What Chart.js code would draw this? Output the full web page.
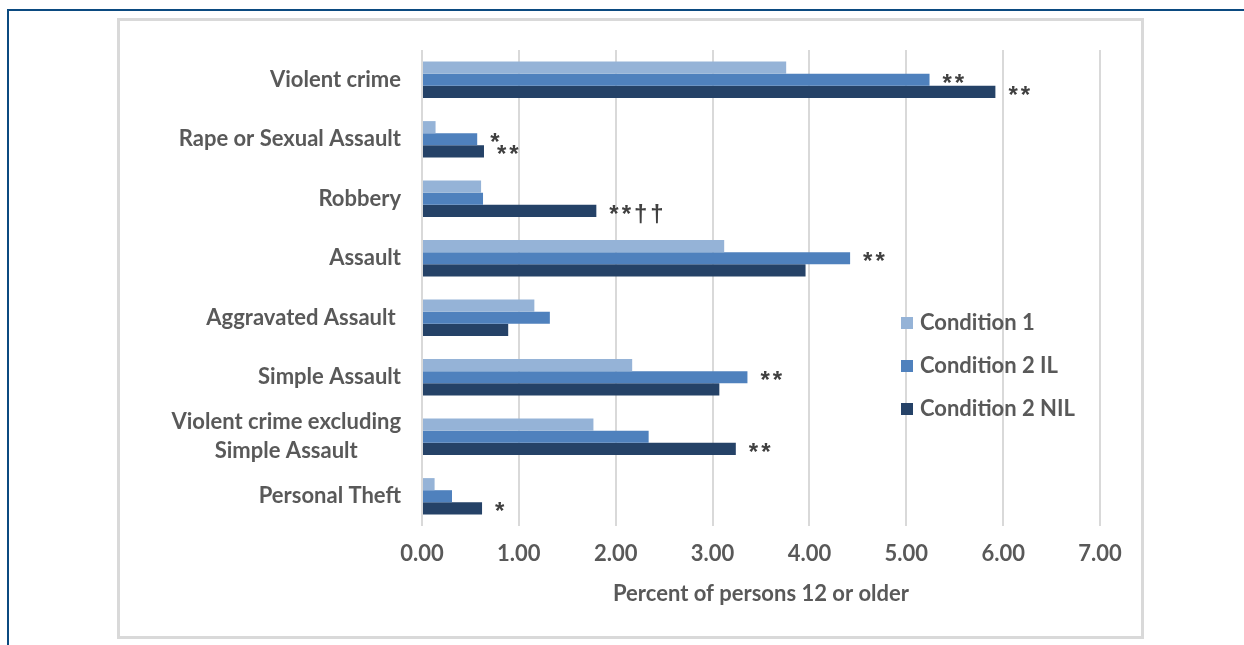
<!DOCTYPE html>
<html>
<head>
<meta charset="utf-8">
<script src="https://cdn.jsdelivr.net/npm/chart.js@4"></script>
<style>
  body { margin: 0; background: #fff; }
  #frame { position: absolute; left: 7px; top: 9px; width: 1300px; height: 700px;
           border-top: 2px solid #0b4a80; border-left: 2px solid #0b4a80; }
  #box { position: absolute; left: 117px; top: 18px; width: 1021px; height: 615px;
         border: 3px solid #d9d9d9; }
  #wrap { position: absolute; left: 0; top: 0; width: 1244px; height: 645px; }
</style>
</head>
<body>
<div id="frame"></div>
<div id="box"></div>
<div id="wrap"><canvas id="myChart" width="1244" height="645"></canvas></div>
<script>
// categories (top to bottom)
const categories = [
    'Violent crime',
    'Rape or Sexual Assault',
    'Robbery',
    'Assault',
    'Aggravated Assault ',
    'Simple Assault',
    ['Violent crime excluding', 'Simple Assault'],
    'Personal Theft'
];

const seriesNames = ['Condition 1', 'Condition 2 IL', 'Condition 2 NIL'];

const condition1 = [3.76, 0.14, 0.61, 3.12, 1.16, 2.17, 1.77, 0.13];
const condition2IL = [5.24, 0.57, 0.63, 4.42, 1.32, 3.36, 2.34, 0.31];
const condition2NIL = [5.92, 0.64, 1.80, 3.96, 0.89, 3.07, 3.24, 0.62];

// significance markers shown after the bars
const marks1 = ['', '', '', '', '', '', '', ''];
const marksIL = ['**', '*', '', '**', '', '**', '', ''];
const marksNIL = ['**', '**', '**††', '', '', '', '**', '*'];

const xTicks = [0, 1, 2, 3, 4, 5, 6, 7];

const colors = ['#95b3d7', '#4f81bd', '#254267'];
const textColor = '#595959';
const fontFamily = 'Lato, "Open Sans", sans-serif';

// draws the star markers next to the bar ends
const markPlugin = {
    id: 'marks',
    afterDatasetsDraw(chart) {
        const ctx = chart.ctx;
        const allMarks = [marks1, marksIL, marksNIL];
        ctx.save();
        ctx.fillStyle = '#404040';
        ctx.font = 'bold 24px "Liberation Sans", Arial, sans-serif';
        ctx.letterSpacing = '3px';
        ctx.textAlign = 'left';
        ctx.textBaseline = 'alphabetic';
        chart.data.datasets.forEach(function(ds, i) {
            const meta = chart.getDatasetMeta(i);
            meta.data.forEach(function(bar, j) {
                const m = allMarks[i][j];
                if (m) {
                    ctx.fillText(m, bar.x + 13, bar.y + 11);
                }
            });
        });
        ctx.restore();
    }
};

// y labels: right aligned block, multi-line labels centred within the block
const yLabelPlugin = {
    id: 'ylabels',
    afterDraw(chart) {
        const ctx = chart.ctx;
        const yScale = chart.scales.y;
        const right = chart.chartArea.left - 21;
        ctx.save();
        ctx.fillStyle = textColor;
        ctx.font = 'bold 22px ' + fontFamily;
        ctx.textBaseline = 'middle';
        categories.forEach(function(label, i) {
            const y = yScale.getPixelForValue(i);
            const lines = Array.isArray(label) ? label : [label];
            const widest = Math.max.apply(null, lines.map(l => ctx.measureText(l).width));
            const lh = 29;
            lines.forEach(function(line, k) {
                const ly = y + (k - (lines.length - 1) / 2) * lh;
                if (lines.length > 1) {
                    ctx.textAlign = 'center';
                    ctx.fillText(line, right - widest / 2, ly);
                } else {
                    ctx.textAlign = 'right';
                    ctx.fillText(line, right, ly);
                }
            });
        });
        ctx.restore();
    }
};

// legend drawn inside the plot area
const legendPlugin = {
    id: 'innerLegend',
    afterDraw(chart) {
        const ctx = chart.ctx;
        ctx.save();
        ctx.font = 'bold 22px ' + fontFamily;
        ctx.textBaseline = 'middle';
        ctx.textAlign = 'left';
        seriesNames.forEach(function(name, i) {
            const y = 323 + i * 43;
            ctx.fillStyle = colors[i];
            ctx.fillRect(901, y - 6, 12, 12);
            ctx.fillStyle = textColor;
            ctx.fillText(name, 920, y);
        });
        ctx.restore();
    }
};

const ctx = document.getElementById('myChart');
const myChart = new Chart(ctx, {
    type: 'bar',
    data: {
        labels: categories,
        datasets: [
            { label: seriesNames[0], data: condition1, backgroundColor: colors[0] },
            { label: seriesNames[1], data: condition2IL, backgroundColor: colors[1] },
            { label: seriesNames[2], data: condition2NIL, backgroundColor: colors[2] }
        ]
    },
    options: {
        indexAxis: 'y',
        responsive: false,
        animation: false,
        devicePixelRatio: 1,
        categoryPercentage: 0.61,
        barPercentage: 1.0,
        layout: { padding: { left: 118, right: 144, top: 50, bottom: 29 } },
        plugins: {
            legend: { display: false },
            tooltip: { enabled: false }
        },
        scales: {
            x: {
                min: 0,
                max: 7,
                afterBuildTicks(scale) {
                    scale.ticks = xTicks.map(v => ({ value: v }));
                },
                afterFit(scale) { scale.height = 90; },
                grid: { color: '#d9d9d9', lineWidth: 2, drawTicks: false },
                border: { display: false },
                ticks: {
                    padding: 15,
                    color: textColor,
                    font: { family: fontFamily, size: 22, weight: 'bold' },
                    callback: v => v.toFixed(2)
                },
                title: {
                    display: true,
                    text: 'Percent of persons 12 or older',
                    color: textColor,
                    font: { family: fontFamily, size: 22, weight: 'bold' },
                    padding: { top: 0, bottom: 9 }
                }
            },
            y: {
                afterFit(scale) { scale.width = 304; },
                grid: { display: false, drawTicks: false },
                border: { display: false },
                ticks: { display: false }
            }
        }
    },
    plugins: [markPlugin, yLabelPlugin, legendPlugin]
});
</script>
</body>
</html>
